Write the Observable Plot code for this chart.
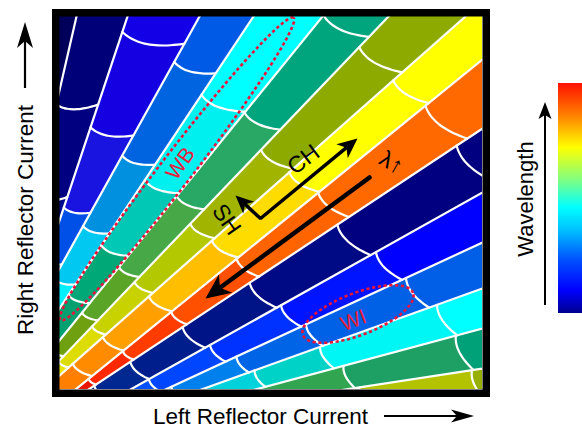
<!DOCTYPE html>
<html>
<head>
<meta charset="utf-8">
<script src="https://cdn.jsdelivr.net/npm/d3@7"></script>
<script src="https://cdn.jsdelivr.net/npm/@observablehq/plot@0.6"></script>
<style>
  html, body { margin: 0; padding: 0; background: #fff; }
  #chart { width: 582px; height: 432px; }
</style>
</head>
<body>
<div id="chart"></div>
<script>
// ---------------- values (arbitrary current units) ----------------
// supermode boundary lines: near end (left/bottom edge) and far end (top/right edge)
const lineNearU = [0, 0, 0, 0, 0, 0, 0, 16, 29, 71, 106, 142, 196, 286];
const lineNearV = [299, 169, 121, 81, 49, 29, 14, 0, 0, 0, 0, 0, 0, 0];
const lineFarU  = [17, 68, 140, 194, 263, 329, 406, 423, 423, 423, 423, 423, 423, 423];
const lineFarV  = [373, 373, 373, 373, 373, 373, 373, 330, 261, 197, 147, 101, 61, 21];

// mode-hop arcs inside each supermode band (distance from the origin)
const bandArcs = [
  [],
  [194, 285],
  [129, 182, 264, 363],
  [111, 165, 242, 347],
  [95, 150, 226, 327],
  [40, 80, 136, 226, 333, 458],
  [28, 71, 131, 211, 313, 455],
  [29, 68, 129, 213, 316, 455],
  [31, 74, 136, 220, 325, 463],
  [35, 76, 138, 218, 323, 466],
  [90, 157, 237, 345],
  [112, 180, 255, 364],
  [196, 264, 387],
  [285, 400],
  [300, 413]
];
// wavelength colour of each cell (from origin outward)
const bandColors = [
  ["#00005a"],
  ["#000a8c", "#000080", "#000078"],
  ["#0064f0", "#0050e8", "#1a14e0", "#1400e0", "#1400e6"],
  ["#00f0ff", "#00c8f0", "#0090e0", "#0064e0", "#005ae6"],
  ["#00a070", "#00a878", "#00c8b4", "#00f0f0", "#00ffff"],
  ["#7aa000", "#6ea010", "#5aa528", "#46a846", "#28a864", "#00a57d", "#00a57d"],
  ["#e6e600", "#dcdc00", "#c8d200", "#b4c800", "#a0b400", "#8caa00", "#8caa00"],
  ["#ff8000", "#ff8c00", "#ffa000", "#ffbe00", "#ffdc00", "#ffff00", "#ffff00"],
  ["#e61400", "#ff2800", "#ff3c00", "#ff5000", "#ff6400", "#ff6900", "#ff6900"],
  ["#002890", "#002890", "#001e8c", "#001488", "#000a84", "#000080", "#000080"],
  ["#0050ff", "#0046ff", "#0032ff", "#0014ff", "#0000ff"],
  ["#00a0f0", "#0080ec", "#0064e6", "#0060e6", "#005fe6"],
  ["#00d2dc", "#00d2c8", "#00f5f5", "#00ffff"],
  ["#32a550", "#1ea064", "#00a078"],
  ["#d2d700", "#b4c300", "#96af00"]
];

// annotations
const ellipseName  = ["WB", "WI"];
const ellipseCx    = [117.5, 298.5];
const ellipseCy    = [220.5, 75.5];
const ellipseA     = [191, 59];
const ellipseB     = [16, 21];
const ellipseAngle = [52.4, 21];

const labelText   = ["WB", "WI", "CH", "SH", "λ↑"];
const labelU      = [121, 294, 244, 167, 332];
const labelV      = [226, 69, 230, 170, 227];
const labelRotate = [-55, -21, -37, 55, 30];
const labelSize   = [21, 21, 23, 23, 23];
const labelColor  = ["#e8203c", "#e8203c", "black", "black", "black"];

// arrows: CH, SH (sharing a corner) and the wavelength arrow
const arrowFromU = [201, 201, 310];
const arrowFromV = [171, 171, 212];
const arrowToU   = [298, 176, 146];
const arrowToV   = [251, 194, 91];
const arrowWidth = [3.5, 3.5, 4.5];
const arrowHead  = [20, 18, 25];

// colour bar (bottom -> top)
const cbarOffsets = [0, 0.1, 0.23, 0.36, 0.46, 0.58, 0.72, 0.86, 1];
const cbarColors  = ["#000090", "#0000ff", "#0050ff", "#00c0ff", "#00ffff", "#80ff80", "#ffff00", "#ff8000", "#ff1000"];

// ---------------- layout helpers ----------------
const L = [{nu: -120, nv: 100, fu: -120, fv: 373}]
  .concat(lineNearU.map((_, i) => ({nu: lineNearU[i], nv: lineNearV[i], fu: lineFarU[i], fv: lineFarV[i]})))
  .concat([{nu: 250, nv: -20, fu: 430, fv: -8}]);
const T0 = -2, T1 = 1.6;
const pt = (l, t) => [l.nu + t * (l.fu - l.nu), l.nv + t * (l.fv - l.nv)];
const unit = (l) => { const dx = l.fu - l.nu, dy = l.fv - l.nv, n = Math.hypot(dx, dy); return [dx / n, dy / n]; };
function atRadius(l, s) {
  const dx = l.fu - l.nu, dy = l.fv - l.nv;
  const a = dx * dx + dy * dy, b = 2 * (l.nu * dx + l.nv * dy), c = l.nu * l.nu + l.nv * l.nv - s * s;
  const disc = b * b - 4 * a * c;
  const t = disc < 0 ? -b / (2 * a) : (-b + Math.sqrt(disc)) / (2 * a);
  return pt(l, t);
}
function arcPoints(i, s) {
  const l0 = L[i], l1 = L[i + 1];
  const A = atRadius(l0, s);
  const e = unit(l0), d1 = unit(l1);
  const tf = (A[0] - l1.nu) * d1[0] + (A[1] - l1.nv) * d1[1];
  const F = [l1.nu + tf * d1[0], l1.nv + tf * d1[1]];
  const W = Math.hypot(F[0] - A[0], F[1] - A[1]);
  const n = [(F[0] - A[0]) / W, (F[1] - A[1]) / W];
  const B = [F[0] + 0.33 * W * d1[0], F[1] + 0.33 * W * d1[1]];
  const C = [A[0] - 0.12 * W * e[0] + 0.4 * W * n[0], A[1] - 0.12 * W * e[1] + 0.4 * W * n[1]];
  const out = [];
  for (let k = 0; k <= 12; k++) {
    const t = k / 12, m = 1 - t;
    out.push([m * m * A[0] + 2 * m * t * C[0] + t * t * B[0], m * m * A[1] + 2 * m * t * C[1] + t * t * B[1]]);
  }
  return out;
}

const cellPts = [], arcPts = [], linePts = [];
bandArcs.forEach((arcs, i) => {
  const edges = [[pt(L[i], T0), pt(L[i + 1], T0)]];
  arcs.forEach((s, k) => {
    const a = arcPoints(i, s);
    edges.push(a);
    a.forEach(p => arcPts.push({u: p[0], v: p[1], id: `a${i}-${k}`}));
  });
  edges.push([pt(L[i], T1), pt(L[i + 1], T1)]);
  for (let k = 0; k < edges.length - 1; k++) {
    const poly = edges[k].concat(edges[k + 1].slice().reverse());
    poly.forEach(p => cellPts.push({u: p[0], v: p[1], id: `c${i}-${k}`, color: bandColors[i][k]}));
  }
});
for (let i = 1; i <= lineNearU.length; i++) {
  [T0, T1].forEach(t => { const p = pt(L[i], t); linePts.push({u: p[0], v: p[1], id: i}); });
}

const ellPts = [];
ellipseName.forEach((nm, j) => {
  const th = ellipseAngle[j] * Math.PI / 180;
  for (let k = 0; k <= 90; k++) {
    const a = 2 * Math.PI * k / 90;
    const x = ellipseA[j] * Math.cos(a), y = ellipseB[j] * Math.sin(a);
    ellPts.push({u: ellipseCx[j] + x * Math.cos(th) - y * Math.sin(th), v: ellipseCy[j] + x * Math.sin(th) + y * Math.cos(th), id: nm});
  }
});

const shaftEnd = [], headPts = [];
arrowFromU.forEach((_, j) => {
  const fx = arrowFromU[j], fy = arrowFromV[j], tx = arrowToU[j], ty = arrowToV[j];
  const len = Math.hypot(tx - fx, ty - fy), dx = (tx - fx) / len, dy = (ty - fy) / len;
  const h = arrowHead[j], hw = h * 0.45;
  const bx = tx - 0.72 * h * dx, by = ty - 0.72 * h * dy;
  shaftEnd.push({u: bx, v: by});
  [[tx, ty], [tx - h * dx - hw * dy, ty - h * dy + hw * dx], [bx, by], [tx - h * dx + hw * dy, ty - h * dy - hw * dx]]
    .forEach(p => headPts.push({u: p[0], v: p[1], id: j}));
});
const elbow = [shaftEnd[1], {u: arrowFromU[0], v: arrowFromV[0]}, shaftEnd[0]];
const lambdaShaft = [{u: arrowFromU[2], v: arrowFromV[2]}, shaftEnd[2]];

const font = "Liberation Sans, Arial, Helvetica, sans-serif";

const plot = Plot.plot({
  width: 582, height: 432,
  marginLeft: 59, marginRight: 100, marginTop: 16, marginBottom: 43,
  x: {domain: [0, 423], axis: null},
  y: {domain: [0, 373], axis: null},
  color: {type: "identity"},
  style: {background: "white", fontFamily: font},
  marks: [
    Plot.line(cellPts, {x: "u", y: "v", z: "id", fill: "color", stroke: "none", clip: true}),
    Plot.line(linePts, {x: "u", y: "v", z: "id", stroke: "white", strokeWidth: 2.2, clip: true}),
    Plot.line(arcPts, {x: "u", y: "v", z: "id", stroke: "white", strokeWidth: 2.2, clip: true, curve: "basis"}),
    Plot.line(ellPts, {x: "u", y: "v", z: "id", stroke: "#e8143c", strokeWidth: 2.6, strokeDasharray: "3.2,2.6", strokeLinecap: "butt", clip: true}),
    Plot.line(elbow, {x: "u", y: "v", stroke: "black", strokeWidth: arrowWidth[0], strokeLinejoin: "miter", strokeLinecap: "butt", clip: true}),
    Plot.line(lambdaShaft, {x: "u", y: "v", stroke: "black", strokeWidth: arrowWidth[2], strokeLinecap: "round", clip: true}),
    Plot.line(headPts, {x: "u", y: "v", z: "id", fill: "black", stroke: "none", clip: true}),
    ...labelText.map((t, j) => Plot.text([t], {
      x: () => labelU[j], y: () => labelV[j], text: d => d,
      rotate: labelRotate[j], fontSize: labelSize[j], fill: labelColor[j], fontFamily: font
    })),
    Plot.frame({stroke: "black", strokeWidth: 7.5, inset: -3.75})
  ]
});
document.getElementById("chart").appendChild(plot);

// ---------------- axis titles and colour bar ----------------
const svg = d3.select(plot);
const grad = svg.append("defs").append("linearGradient").attr("id", "jetbar")
  .attr("x1", 0).attr("y1", 1).attr("x2", 0).attr("y2", 0);
cbarOffsets.forEach((o, i) => grad.append("stop").attr("offset", o).attr("stop-color", cbarColors[i]));
svg.append("rect").attr("x", 558).attr("y", 83).attr("width", 24).attr("height", 230).attr("fill", "url(#jetbar)");

function head(g, tx, ty, dx, dy, h, hw, notch) {
  const pts = [[tx, ty], [tx - h * dx - hw * dy, ty - h * dy + hw * dx], [tx - (h - notch) * dx, ty - (h - notch) * dy], [tx - h * dx + hw * dy, ty - h * dy - hw * dx]];
  g.append("polygon").attr("points", pts.map(p => p.join(",")).join(" ")).attr("fill", "black");
}
const deco = svg.append("g").attr("font-family", font).attr("fill", "black");
// bottom
deco.append("text").attr("x", 153).attr("y", 424).attr("text-anchor", "start").attr("font-size", 22.5).text("Left Reflector Current");
deco.append("line").attr("x1", 384).attr("y1", 416).attr("x2", 462).attr("y2", 416).attr("stroke", "black").attr("stroke-width", 2.2);
head(deco, 474, 416, 1, 0, 23, 6.5, 6);
// left
deco.append("text").attr("transform", "translate(33,220) rotate(-90)").attr("text-anchor", "middle").attr("font-size", 22.5).text("Right Reflector Current");
deco.append("line").attr("x1", 25).attr("y1", 88).attr("x2", 25).attr("y2", 40).attr("stroke", "black").attr("stroke-width", 2.2);
head(deco, 25, 22, 0, -1, 26, 8, 7);
// right
deco.append("text").attr("transform", "translate(533,199) rotate(-90)").attr("text-anchor", "middle").attr("font-size", 22).text("Wavelength");
deco.append("line").attr("x1", 545).attr("y1", 305).attr("x2", 545).attr("y2", 112).attr("stroke", "black").attr("stroke-width", 2);
head(deco, 545, 102, 0, -1, 17, 6.5, 4);
</script>
</body>
</html>
